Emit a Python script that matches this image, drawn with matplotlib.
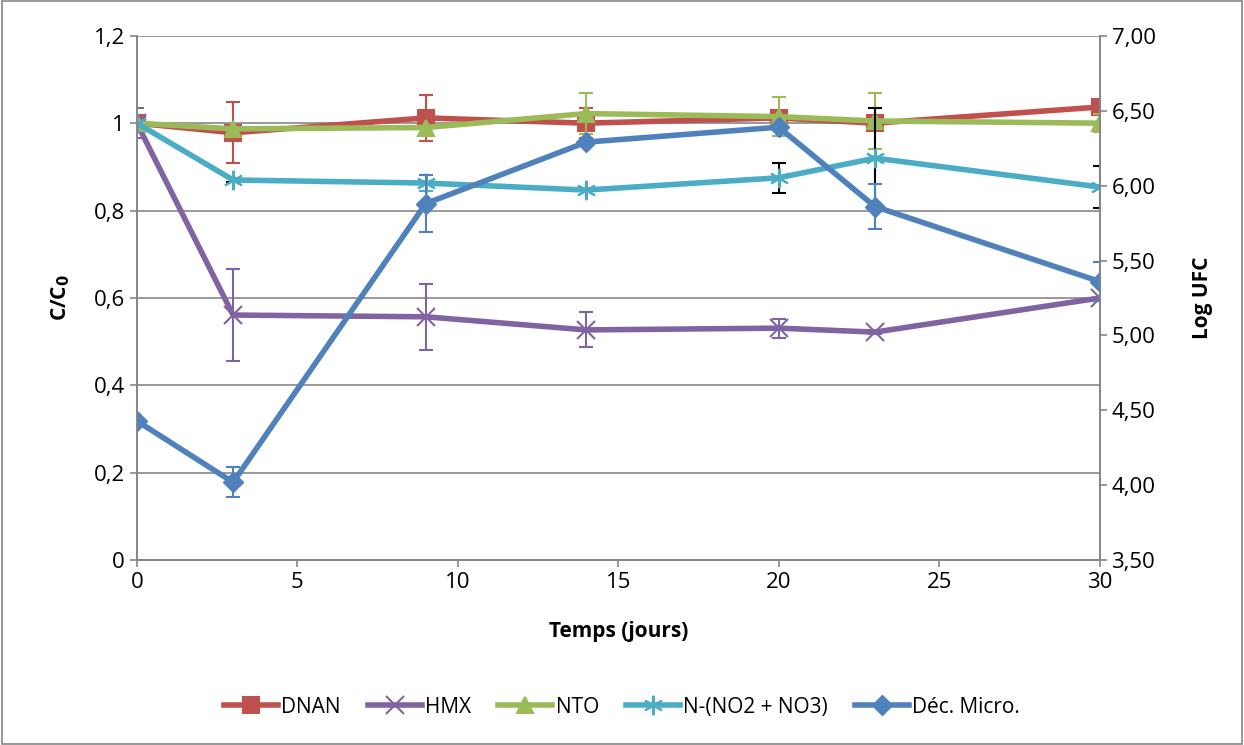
import matplotlib
matplotlib.use('agg')
import matplotlib.pyplot as plt
from matplotlib.ticker import FuncFormatter

days = [0, 3, 9, 14, 20, 23, 30]

dnan = [1.0, 0.978, 1.012, 1.0, 1.012, 1.0, 1.037]
dnan_err = [0.0, 0.07, 0.053, 0.034, 0.01, 0.0, 0.0]

hmx = [1.0, 0.561, 0.557, 0.527, 0.531, 0.522, 0.6]
hmx_err = [0.035, 0.105, 0.075, 0.04, 0.022, 0.005, 0.0]

nto = [1.0, 0.987, 0.99, 1.022, 1.015, 1.005, 1.0]
nto_err = [0.0, 0.0, 0.0, 0.046, 0.045, 0.065, 0.02]

nitro = [1.0, 0.87, 0.863, 0.847, 0.875, 0.92, 0.854]
nitro_err = [0.0, 0.004, 0.018, 0.0, 0.035, 0.115, 0.048]
nitro_err_colors = ["black", "black", "#4BACC6", "black", "black", "black", "black"]

dec = [4.43, 4.02, 5.88, 6.29, 6.39, 5.86, 5.36]
dec_err = [0.0, 0.1, 0.19, 0.0, 0.0, 0.15, 0.127]

plt.rcParams['font.family'] = ['Open Sans', 'DejaVu Sans']

fig = plt.figure(figsize=(12.44, 7.45), dpi=100)
ax = fig.add_axes([0.110, 0.248, 0.774, 0.704])
ax2 = ax.twinx()

lw = 4.0
cap = dict(capsize=5, elinewidth=1.5, capthick=1.5, linestyle='none')

series = [
    ("DNAN", dnan, dnan_err, "#C0504D", "s", 11, None),
    ("HMX", hmx, hmx_err, "#8064A2", "x", 13, None),
    ("NTO", nto, nto_err, "#9BBB59", "^", 12, None),
    ("N-(NO2 + NO3)", nitro, nitro_err, "#4BACC6", (6, 2, 0), 14, nitro_err_colors),
]

handles = []
for name, ys, err, color, marker, ms, ecols in series:
    if ecols is None:
        ax.errorbar(days, ys, yerr=err, color=color, **cap)
    else:
        for x, y, e, c in zip(days, ys, err, ecols):
            if e > 0:
                ax.errorbar([x], [y], yerr=[e], color=c, **cap)
    h, = ax.plot(days, ys, color=color, linewidth=lw, marker=marker, markersize=ms,
                 markeredgewidth=1.5, label=name)
    handles.append(h)

ax2.errorbar(days, dec, yerr=dec_err, color="#4F81BD", **cap)
h, = ax2.plot(days, dec, color="#4F81BD", linewidth=lw, marker="D", markersize=10,
              label="Déc. Micro.")
handles.append(h)

ax.set_xlim(0, 30)
ax.set_ylim(0, 1.2)
ax.set_yticks([0, 0.2, 0.4, 0.6, 0.8, 1.0, 1.2])
ax.yaxis.set_major_formatter(FuncFormatter(lambda v, p: ("%g" % round(v, 1)).replace(".", ",")))
ax.set_xticks([0, 5, 10, 15, 20, 25, 30])
ax2.set_ylim(3.5, 7.0)
ax2.set_yticks([3.5, 4.0, 4.5, 5.0, 5.5, 6.0, 6.5, 7.0])
ax2.yaxis.set_major_formatter(FuncFormatter(lambda v, p: ("%.2f" % v).replace(".", ",")))

ax.grid(axis='y', color='#868686', linewidth=1.2)
ax.set_axisbelow(True)
for a in (ax, ax2):
    for s in a.spines.values():
        s.set_color('#868686')
        s.set_linewidth(1.2)
    a.spines['top'].set_visible(False)
    a.tick_params(colors='#868686', labelcolor='black', labelsize=16, length=5, width=1.2)

ax.set_xlabel("Temps (jours)", fontsize=15, fontweight='bold', labelpad=20)
ax.set_ylabel("C/C$_\\mathbf{0}$", fontsize=15, fontweight='bold', labelpad=16)
ax2.set_ylabel("Log UFC", fontsize=15, fontweight='bold', labelpad=26)

fig.legend(handles=handles, loc='center', bbox_to_anchor=(0.5, 0.051), ncol=5,
           frameon=False, fontsize=15, handlelength=2.6, columnspacing=1.3,
           handletextpad=0.15)

fig.patches.append(plt.Rectangle((0.002, 0.002), 0.996, 0.996, transform=fig.transFigure,
                                 fill=False, edgecolor='#868686', linewidth=1.2))

plt.savefig("out.png", dpi=100)
plt.close()
